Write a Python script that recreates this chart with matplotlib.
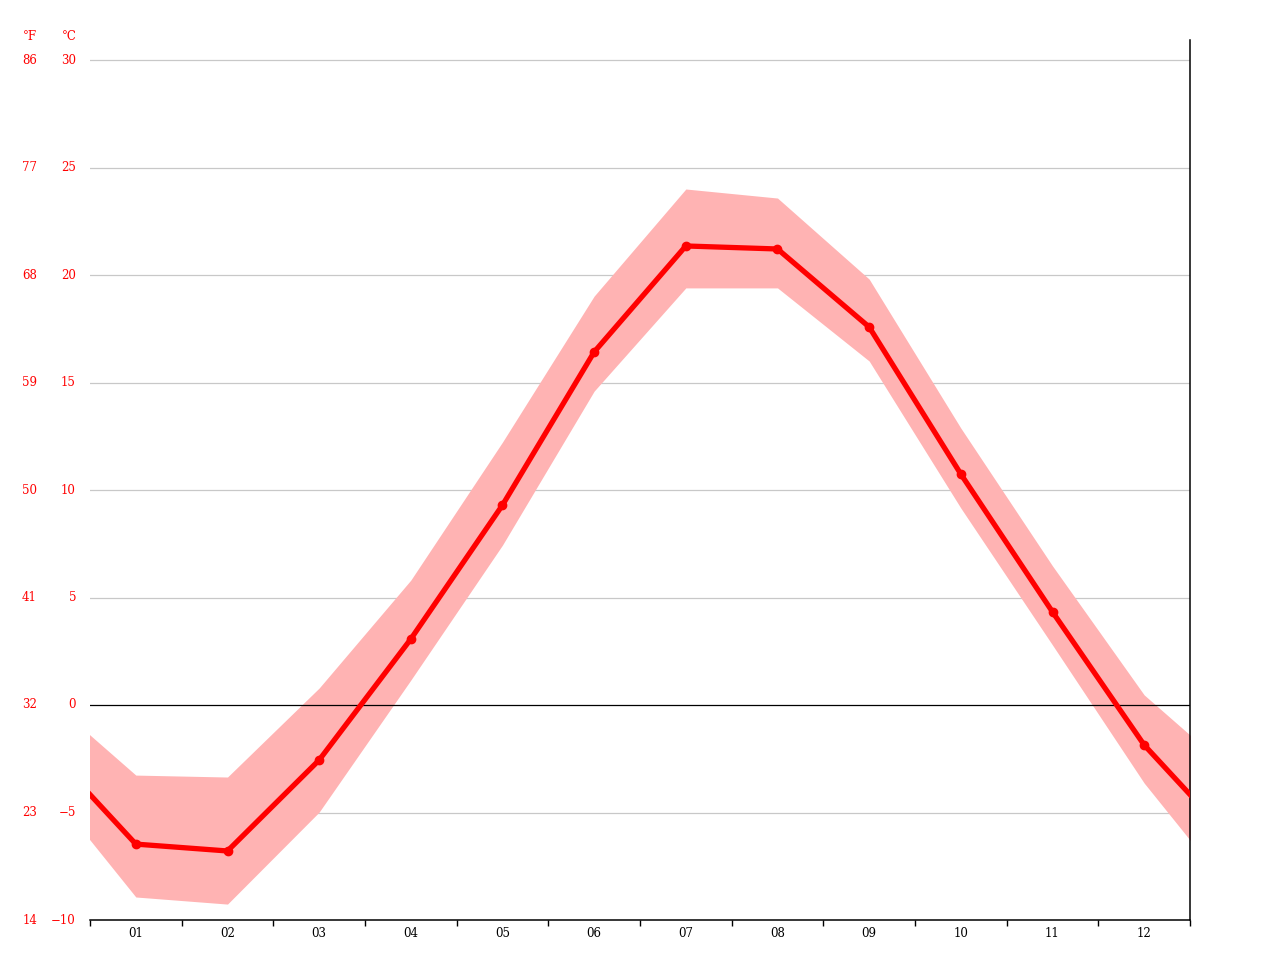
import numpy as np
import matplotlib
matplotlib.use("Agg")
from matplotlib import pyplot as plt
import matplotlib.transforms as mtransforms

months = ["01", "02", "03", "04", "05", "06", "07", "08", "09", "10", "11", "12"]
t_mean = [-6.47, -6.79, -2.56, 3.07, 9.30, 16.42, 21.35, 21.21, 17.58, 10.74, 4.33, -1.86]
t_max = [-3.26, -3.35, 0.79, 5.81, 12.23, 19.02, 24.0, 23.58, 19.81, 12.88, 6.47, 0.47]
t_min = [-8.93, -9.26, -4.98, 1.16, 7.44, 14.6, 19.4, 19.4, 16.0, 9.16, 2.79, -3.63]
c_ticks = [-10, -5, 0, 5, 10, 15, 20, 25, 30]
f_ticks = [14, 23, 32, 41, 50, 59, 68, 77, 86]

plt.rcParams['font.family'] = ['DejaVu Serif']

fig = plt.figure(figsize=(12.8, 9.6), dpi=100)
ax = fig.add_axes([90/1280, 40/960, 1100/1280, 880/960])

# wrap december/january around so the curves run to the edges
x = np.arange(0, 14)
def wrap(v):
    return [v[-1]] + list(v) + [v[0]]

xc = x - 0.5
ax.fill_between(xc, wrap(t_min), wrap(t_max), color='#ffb3b3', lw=0, zorder=2)
ax.plot(xc, wrap(t_mean), color='#ff0000', lw=3.8, zorder=4, solid_capstyle='butt')
ax.plot(np.arange(12) + 0.5, t_mean, 'o', color='#ff0000', ms=6, zorder=5)

for c in c_ticks[1:]:
    if c == 0:
        ax.axhline(c, color='black', lw=0.9, zorder=3)
    else:
        ax.axhline(c, color='#c8c8c8', lw=0.9, zorder=1)

ax.set_xlim(0, 12)
ax.set_ylim(-10, 30 + 20/21.5)

for s in ['top', 'left']:
    ax.spines[s].set_visible(False)
ax.spines['bottom'].set_linewidth(1.1)
ax.spines['right'].set_linewidth(1.1)

ax.set_xticks(np.arange(0, 13))
ax.set_xticklabels([])
ax.set_xticks(np.arange(12) + 0.5, minor=True)
ax.set_xticklabels(months, minor=True, fontsize=8.5)
ax.tick_params(axis='x', which='major', length=4, width=1, direction='out')
ax.tick_params(axis='x', which='minor', length=0, pad=5)
ax.set_yticks([])

trans = mtransforms.blended_transform_factory(fig.transFigure, ax.transData)
for c, f in zip(c_ticks, f_ticks):
    ax.text(76/1280, c, str(c).replace('-', '\u2212'), transform=trans, ha='right', va='center',
            color='#ff0000', fontsize=8.5, clip_on=False)
    ax.text(37/1280, c, str(f), transform=trans, ha='right', va='center',
            color='#ff0000', fontsize=8.5, clip_on=False)

fig.text(37/1280, 1 - 36/960, '°F', ha='right', va='center', color='#ff0000', fontsize=8.5)
fig.text(77/1280, 1 - 36/960, '°C', ha='right', va='center', color='#ff0000', fontsize=8.5)

fig.savefig("out.png", dpi=100)
